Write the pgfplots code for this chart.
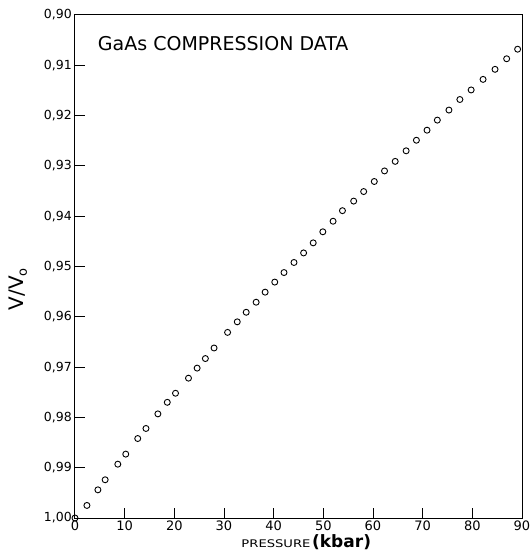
\documentclass[border=0pt]{standalone}
\usepackage{pgfplots}
\pgfplotsset{compat=1.18}
\usepackage{fontspec}
\setmainfont{DejaVu Sans}
\usetikzlibrary{calc}

% GaAs compression: relative volume V/V0 against pressure (kbar)
\pgfplotstableread{
p     v
0.00  1.0000
2.40  0.9975
4.61  0.9944
6.07  0.9924
8.62  0.9893
10.22 0.9873
12.63 0.9842
14.29 0.9822
16.69 0.9793
18.58 0.9770
20.24 0.9752
22.85 0.9722
24.59 0.9702
26.25 0.9683
28.00 0.9662
30.72 0.9631
32.67 0.9610
34.47 0.9591
36.47 0.9571
38.28 0.9551
40.22 0.9531
42.08 0.9512
44.09 0.9492
46.03 0.9473
47.96 0.9453
49.90 0.9431
51.96 0.9410
53.85 0.9389
56.11 0.9370
58.12 0.9351
60.26 0.9331
62.32 0.9310
64.47 0.9291
66.67 0.9270
68.74 0.9249
70.88 0.9229
72.95 0.9209
75.29 0.9189
77.49 0.9168
79.76 0.9149
82.16 0.9128
84.57 0.9108
86.91 0.9087
89.12 0.9068
}\gaasdata

\begin{document}
\begin{tikzpicture}
% tick-only frame: same size, inward ticks on the lower and left edges
\begin{axis}[
  scale only axis,
  width=447pt, height=503pt,
  xmin=0, xmax=90,
  ymin=0, ymax=10,
  axis line style={draw=none},
  xtick={10,20,30,40,50,60,70,80},
  ytick={1,2,3,4,5,6,7,8,9},
  xticklabels={}, yticklabels={},
  xtick pos=left, ytick pos=left,
  tick align=inside,
  major tick length=10pt,
  major tick style={line width=0.9pt, black},
]
\end{axis}
\begin{axis}[
  scale only axis,
  width=447pt, height=503pt,
  xmin=0, xmax=90,
  ymin=0.90, ymax=1.00,
  y dir=reverse,
  clip=false,
  axis line style={line width=1pt},
  xtick={0,10,20,30,40,50,60,70,80,90},
  xticklabels={0,10,20,30,40,50,60,70,80,90},
  ytick={0.90,0.91,0.92,0.93,0.94,0.95,0.96,0.97,0.98,0.99,1.00},
  yticklabels={{0,90},{0,91},{0,92},{0,93},{0,94},{0,95},{0,96},{0,97},{0,98},{0,99},{1,00}},
  xtick style={draw=none}, ytick style={draw=none},
  xticklabel style={font=\fontsize{13}{13}\selectfont, inner sep=1pt, yshift=-2pt},
  yticklabel style={font=\fontsize{12.5}{12.5}\selectfont, inner sep=1pt, xshift=-2pt},
  xlabel={\scalebox{1.25}[1]{\fontsize{10.5}{10.5}\selectfont PRESSURE}\,{\fontsize{17}{17}\selectfont\bfseries (kbar)}},
  xlabel style={at={(axis description cs:0.372,-0.0596)}, anchor=base west, inner sep=0pt},
  ylabel={\fontsize{20}{20}\selectfont V/V\raisebox{-0.35ex}{\fontsize{13}{13}\selectfont o}},
  ylabel style={at={(axis description cs:-0.128,0.455)}, anchor=center, inner sep=0pt},
]
\addplot[only marks, mark=o, mark size=3pt, mark options={line width=0.9pt, black}]
  table[x=p, y=v] {\gaasdata};
\node[anchor=west, inner sep=0pt, font=\fontsize{19}{19}\selectfont]
  at (axis description cs:0.051,0.944) {GaAs COMPRESSION DATA};
\end{axis}
\pgfresetboundingbox
\path[use as bounding box]
  ($(current axis.south west)+(-75pt,-35pt)$) rectangle
  ($(current axis.north east)+(7pt,15pt)$);
\end{tikzpicture}
\end{document}
